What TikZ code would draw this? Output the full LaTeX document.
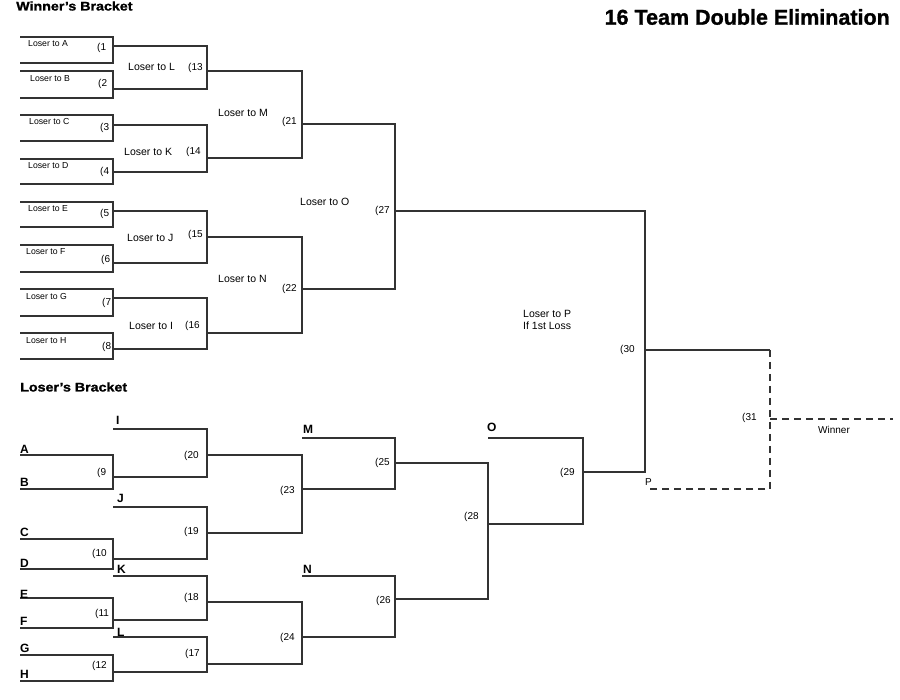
\documentclass[tikz,border=0pt]{standalone}
\usepackage{fontspec}
\setmainfont{Liberation Sans}
\newfontfamily\heavyfont[FakeBold=1.2]{Liberation Sans Bold}
\begin{document}
\begin{tikzpicture}[x=1pt,y=-1pt,
  line/.style={draw=black!80,line width=1.4pt,line join=miter},
  dline/.style={line,dash pattern=on 7pt off 5pt},
  tiny/.style={inner sep=0pt,anchor=west,font=\fontsize{8.7}{10}\selectfont},
  num/.style={inner sep=0pt,anchor=west,font=\fontsize{10}{12}\selectfont},
  lab/.style={inner sep=0pt,anchor=west,font=\fontsize{10.5}{12}\selectfont},
  let/.style={inner sep=0pt,anchor=west,font=\bfseries\fontsize{12}{14}\selectfont},
  head/.style={inner sep=0pt,font=\heavyfont\fontsize{12.5}{14}\selectfont,xscale=1.14}]
\useasboundingbox[fill=white] (0,0) rectangle (900,700);
\newcommand{\brk}[4]{\draw[line] (#1,#3) -- (#2,#3) -- (#2,#4) -- (#1,#4);}
% Winner's bracket
\brk{20}{113}{37}{63}
\brk{20}{113}{71}{98}
\brk{20}{113}{115}{141}
\brk{20}{113}{159}{184}
\brk{20}{113}{202}{227}
\brk{20}{113}{245}{272}
\brk{20}{113}{289}{316}
\brk{20}{113}{333}{359}
\brk{113}{207}{46}{89}
\brk{113}{207}{125}{172}
\brk{113}{207}{211}{263}
\brk{113}{207}{298}{349}
\brk{207}{302}{71}{158}
\brk{207}{302}{237}{333}
\brk{302}{395}{124}{289}
\draw[line] (395,211) -- (645,211) -- (645,472) -- (583,472);
\draw[line] (645,350) -- (770,350);
\draw[dline] (770,350) -- (770,489) -- (647,489);
\draw[dline] (770,419) -- (893,419);
% Loser's bracket
\brk{20}{113}{455}{489}
\brk{20}{113}{539}{569}
\brk{20}{113}{598}{628}
\brk{20}{113}{655}{681}
\brk{113}{207}{429}{477}
\brk{113}{207}{507}{559}
\brk{113}{207}{576}{620}
\brk{113}{207}{637}{672}
\brk{207}{302}{455}{533}
\brk{207}{302}{602}{664}
\brk{302}{395}{438}{489}
\brk{302}{395}{576}{637}
\brk{395}{488}{463}{599}
\brk{488}{583}{438}{524}
% headings
\node[head,anchor=west] (hw) at (16,6) {Winner’s Bracket};
\node[inner sep=0pt,anchor=east,font=\heavyfont\fontsize{21.5}{24}\selectfont] (ht) at (890,17) {16 Team Double Elimination};
\node[head,anchor=west] (hl) at (20,387) {Loser’s Bracket};
% first round labels
\node[tiny] (la) at (28,44) {Loser to A};
\node[tiny] (lb) at (30,79) {Loser to B};
\node[tiny] (lc) at (29,122) {Loser to C};
\node[tiny] (ld) at (28,166) {Loser to D};
\node[tiny] (le) at (28,209) {Loser to E};
\node[tiny] (lf) at (26,252) {Loser to F};
\node[tiny] (lg) at (26,297) {Loser to G};
\node[tiny] (lh) at (26,341) {Loser to H};
\node[num] (g1) at (97,48) {(1};
\node[num] (g2) at (98,84) {(2};
\node[num] (g3) at (100,128) {(3};
\node[num] (g4) at (100,172) {(4};
\node[num] (g5) at (100,214) {(5};
\node[num] (g6) at (101,260) {(6};
\node[num] (g7) at (102,303) {(7};
\node[num] (g8) at (102,347) {(8};
\node[lab] (ll) at (128,67) {Loser to L};
\node[lab] (lk) at (124,152) {Loser to K};
\node[lab] (lj) at (127,238) {Loser to J};
\node[lab] (li) at (129,326) {Loser to I};
\node[num] (g13) at (188,68) {(13};
\node[num] (g14) at (186,152) {(14};
\node[num] (g15) at (188,235) {(15};
\node[num] (g16) at (185,326) {(16};
\node[lab] (lm) at (218,113) {Loser to M};
\node[lab] (ln) at (218,279) {Loser to N};
\node[num] (g21) at (282,122) {(21};
\node[num] (g22) at (282,289) {(22};
\node[lab] (lo) at (300,202) {Loser to O};
\node[num] (g27) at (375,211) {(27};
\node[lab,align=left] (lp) at (523,320) {Loser to P\\If 1st Loss};
\node[num] (g30) at (620,350) {(30};
\node[num] (g31) at (742,418) {(31};
\node[inner sep=0pt,font=\fontsize{10}{12}\selectfont] (win) at (834,430) {Winner};
\node[num] (pp) at (645,482) {P};
% loser's bracket labels
\node[let] (xi) at (116,420) {I};
\node[let] (xa) at (20,449) {A};
\node[let] (xb) at (20,482) {B};
\node[let] (xj) at (117,498) {J};
\node[let] (xc) at (20,532) {C};
\node[let] (xd) at (20,563) {D};
\node[let] (xk) at (117,569) {K};
\node[let] (xe) at (20,594) {E};
\node[let] (xf) at (20,621) {F};
\node[let] (xl) at (117,632) {L};
\node[let] (xg) at (20,648) {G};
\node[let] (xh) at (20,674) {H};
\node[let] (xm) at (303,429) {M};
\node[let] (xn) at (303,569) {N};
\node[let] (xo) at (487,427) {O};
\node[num] (g9) at (97,473) {(9};
\node[num] (g20) at (184,456) {(20};
\node[num] (g19) at (184,532) {(19};
\node[num] (g10) at (92,554) {(10};
\node[num] (g18) at (184,598) {(18};
\node[num] (g11) at (95,614) {(11};
\node[num] (g17) at (185,654) {(17};
\node[num] (g12) at (92,666) {(12};
\node[num] (g23) at (280,491) {(23};
\node[num] (g24) at (280,638) {(24};
\node[num] (g25) at (375,463) {(25};
\node[num] (g26) at (376,601) {(26};
\node[num] (g28) at (464,517) {(28};
\node[num] (g29) at (560,473) {(29};
\end{tikzpicture}
\end{document}
